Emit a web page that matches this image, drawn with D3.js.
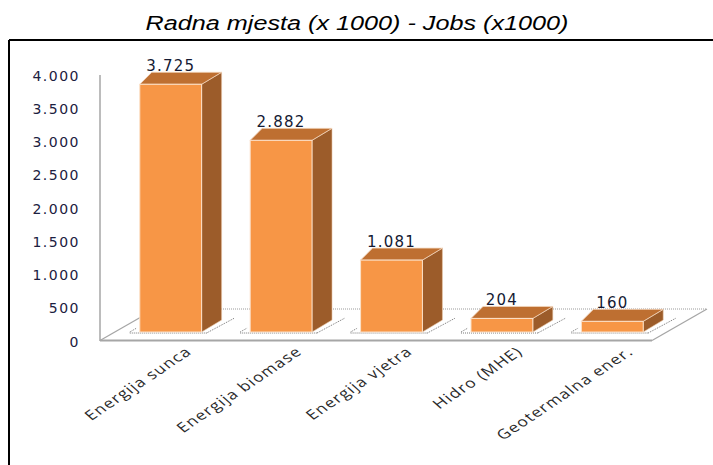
<!DOCTYPE html>
<html><head><meta charset="utf-8">
<script src="https://cdn.jsdelivr.net/npm/d3@7"></script>
<style>body{margin:0;background:#fff;}svg{display:block;}</style>
</head><body>
<svg id="chart" width="713" height="465"></svg>
<script>
const title = "Radna mjesta (x 1000) - Jobs (x1000)";
const categories = ["Energija sunca", "Energija biomase", "Energija vjetra", "Hidro (MHE)", "Geotermalna ener."];
const values = [3725, 2882, 1081, 204, 160];
const valueLabels = ["3.725", "2.882", "1.081", "204", "160"];
const yTicks = [0, 500, 1000, 1500, 2000, 2500, 3000, 3500, 4000];
const yTickLabels = ["0", "500", "1.000", "1.500", "2.000", "2.500", "3.000", "3.500", "4.000"];

const svg = d3.select("#chart");

// frame
svg.append("line").attr("x1", 9).attr("y1", 40).attr("x2", 713).attr("y2", 40).attr("stroke", "#000").attr("stroke-width", 2);
svg.append("line").attr("x1", 9).attr("y1", 40).attr("x2", 9).attr("y2", 465).attr("stroke", "#000").attr("stroke-width", 2);

// title
svg.append("text").attr("transform", "translate(357,30) scale(1.2,1)").attr("text-anchor", "middle")
  .attr("font-family", "Liberation Sans, Arial, sans-serif").attr("font-style", "italic")
  .attr("font-size", 21).attr("fill", "#000").text(title);

const y = d3.scaleLinear().domain([0, 4000]).range([341, 75]);
const x = d3.scaleBand().domain(categories).range([115.5, 667.5]).paddingInner(0.44).paddingOuter(0.22);

// depth geometry
const floorDX = 55, floorDY = -32;
const barShift = -9;
const dxL = 12, dxR = 20, dz = -12;
const x0 = 100, xEnd = 652;

// floor
const floor = svg.append("g");
floor.append("line").attr("x1", x0 + floorDX).attr("y1", y(0) + floorDY).attr("x2", xEnd + floorDX).attr("y2", y(0) + floorDY)
  .attr("stroke", "#9a9a9a").attr("stroke-dasharray", "1,1");
floor.append("line").attr("x1", x0).attr("y1", y(0) - 0.5).attr("x2", x0 + floorDX).attr("y2", y(0) + floorDY)
  .attr("stroke", "#a6a6a6").attr("stroke-width", 1.3);
floor.append("line").attr("x1", xEnd).attr("y1", y(0) - 0.5).attr("x2", xEnd + floorDX).attr("y2", y(0) + floorDY)
  .attr("stroke", "#a6a6a6").attr("stroke-width", 1.3);
floor.append("line").attr("x1", x0).attr("y1", y(0) - 0.5).attr("x2", xEnd).attr("y2", y(0) - 0.5)
  .attr("stroke", "#a6a6a6").attr("stroke-width", 1.8);

// y axis line
svg.append("line").attr("x1", x0).attr("y1", y(4000)).attr("x2", x0).attr("y2", y(0))
  .attr("stroke", "#a6a6a6").attr("stroke-width", 1.5);

// y tick labels
const yAxis = d3.axisLeft(y).tickValues(yTicks).tickSize(0).tickPadding(0)
  .tickFormat((d, i) => yTickLabels[i]);
const ya = svg.append("g").attr("transform", "translate(80,0)").call(yAxis);
ya.select(".domain").remove();
ya.selectAll("text").attr("font-family", "DejaVu Sans, Verdana, sans-serif").attr("font-size", 14)
  .attr("letter-spacing", 1.5).attr("fill", "#1c2040").attr("x", 0).attr("dy", "0.36em");

// bars
const bars = svg.append("g").attr("transform", `translate(0,${barShift})`);
const data = categories.map((c, i) => ({ c, v: values[i], lab: valueLabels[i] }));

// floor dotted shadows
data.forEach(d => {
  const bx0 = x(d.c), bx1 = x(d.c) + x.bandwidth();
  const base = y(0) + 1;
  bars.append("line").attr("x1", bx0 - 10).attr("y1", base).attr("x2", bx1 + 5).attr("y2", base)
    .attr("stroke", "#777").attr("stroke-dasharray", "1,1");
  bars.append("line").attr("x1", bx1 + 5).attr("y1", base).attr("x2", bx1 + 33).attr("y2", base - 15)
    .attr("stroke", "#777").attr("stroke-dasharray", "1,1");
  bars.append("line").attr("x1", bx0 - 10).attr("y1", base - 1).attr("x2", bx0 - 3).attr("y2", base - 5)
    .attr("stroke", "#777").attr("stroke-dasharray", "1,1");
});

data.forEach(d => {
  const bx0 = x(d.c), bx1 = x(d.c) + x.bandwidth();
  const top = y(d.v), base = y(0);
  bars.append("polygon")
    .attr("points", [[bx1, top], [bx1 + dxR, top + dz], [bx1 + dxR, base + dz], [bx1, base]].join(" "))
    .attr("fill", "#9c5c2a").attr("stroke", "#e9c7a8").attr("stroke-width", 0.6);
  bars.append("polygon")
    .attr("points", [[bx0, top], [bx0 + dxL, top + dz], [bx1 + dxR, top + dz], [bx1, top]].join(" "))
    .attr("fill", "#be6f31").attr("stroke", "#f3d6bd").attr("stroke-width", 0.8);
  bars.append("rect").attr("x", bx0).attr("y", top).attr("width", bx1 - bx0).attr("height", base - top)
    .attr("fill", "#f79646").attr("stroke", "#fbe0c8").attr("stroke-width", 1);
  bars.append("text").attr("x", (bx0 + bx1) / 2).attr("y", top + dz - 1).attr("text-anchor", "middle")
    .attr("font-family", "DejaVu Sans, Verdana, sans-serif").attr("font-size", 15).attr("letter-spacing", 1.2)
    .attr("fill", "#141a33").text(d.lab);
});

// category labels
data.forEach(d => {
  const cx = x(d.c) + x.bandwidth() / 2 + 22;
  svg.append("text").attr("transform", `translate(${cx},353) scale(1.3,1) rotate(-41)`).attr("text-anchor", "end")
    .attr("font-family", "Open Sans, Liberation Sans, sans-serif").attr("font-size", 13.5).attr("letter-spacing", 0.9)
    .attr("fill", "#2a2a2a").text(d.c);
});
</script>
</body></html>
